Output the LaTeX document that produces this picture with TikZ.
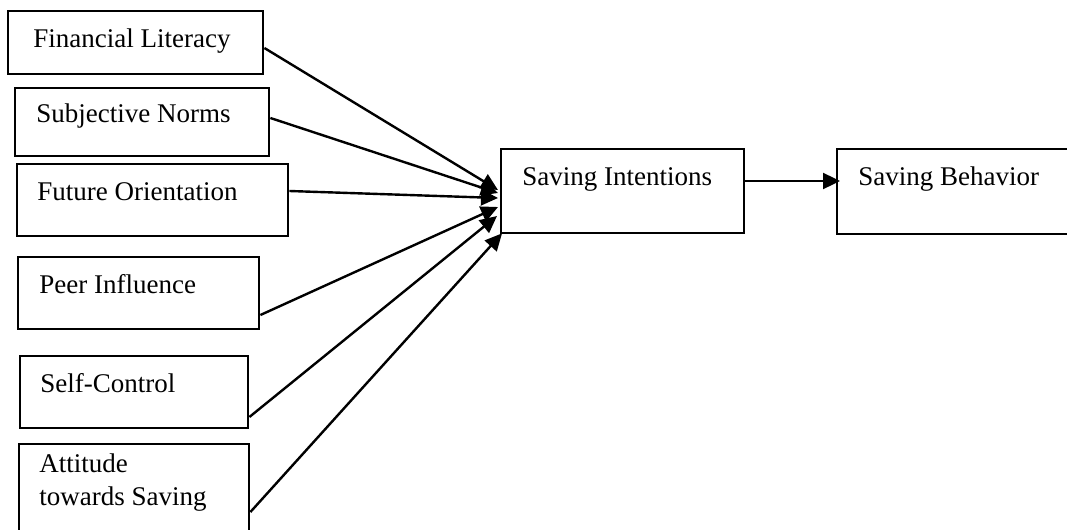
\documentclass[tikz,border=0pt]{standalone}
\usepackage{fontspec}
\setmainfont{Liberation Serif}
\usetikzlibrary{arrows.meta,calc}
\begin{document}
\begin{tikzpicture}[x=0.5pt,y=-0.5pt,
  box/.style={draw,line width=1.2pt,rectangle,anchor=north west,inner sep=0pt},
  txt/.style={anchor=base west,inner sep=0pt,font=\fontsize{13.5pt}{16.5pt}\selectfont,align=left},
  arr/.style={line width=1.2pt,-{Triangle[length=8.5pt,width=8pt]}}]
\useasboundingbox (0,0) rectangle (1067,530);
% left boxes
\node[box,minimum width=127.5pt,minimum height=31.5pt] (fl) at (7,10) {};
\node[box,minimum width=127pt,minimum height=34pt] (sn) at (14,87) {};
\node[box,minimum width=135.5pt,minimum height=36pt] (fo) at (16,163) {};
\node[box,minimum width=120.5pt,minimum height=36pt] (pi) at (17,256) {};
\node[box,minimum width=114pt,minimum height=36pt] (sc) at (19,355) {};
\node[box,minimum width=115pt,minimum height=50pt] (at) at (18,443) {};
% right boxes
\node[box,minimum width=121.5pt,minimum height=42pt] (si) at (500,148) {};
\node[box,minimum width=125pt,minimum height=42.5pt] (sb) at (836,148) {};
% texts
\node[txt] (tfl) at (33,47) {Financial Literacy};
\node[txt] (tsn) at (36,122) {Subjective Norms};
\node[txt] (tfo) at (37,200) {Future Orientation};
\node[txt] (tpi) at (39,293) {Peer Influence};
\node[txt] (tsc) at (40,392) {Self-Control};
\node[txt] (tat) at (39,505) {Attitude\\towards Saving};
\node[txt] (tsi) at (522,185) {Saving Intentions};
\node[txt] (tsb) at (858,185) {Saving Behavior};
% connectors
\draw[arr] ($(fl.north east)+(0,38)$) -- ($(si.north west)+(-2,42)$);
\draw[arr] ($(sn.north east)+(0,31)$) -- ($(si.north west)+(-2,45)$);
\draw[arr] ($(fo.north east)+(0,28)$) -- ($(si.north west)+(-2,50)$);
\draw[arr] ($(pi.north east)+(0,59)$) -- ($(si.north west)+(-2,59)$);
\draw[arr] ($(sc.north east)+(0,62)$) -- ($(si.north west)+(-3,68)$);
\draw[arr] ($(at.north east)+(0,69)$) -- ($(si.south west)+(2,-1)$);
\draw[arr] ($(si.north east)+(0,33)$) -- ($(sb.north west)+(4,33)$);
\end{tikzpicture}
\end{document}
